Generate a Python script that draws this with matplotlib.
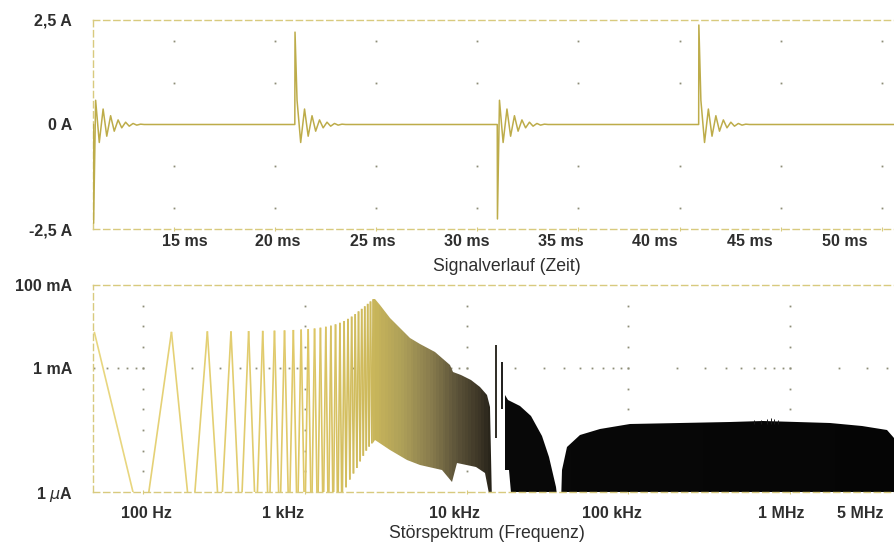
import numpy as np
import matplotlib
matplotlib.use('Agg')
import matplotlib.pyplot as plt
from matplotlib.collections import LineCollection
from matplotlib.colors import LinearSegmentedColormap, Normalize
from matplotlib.patches import PathPatch
from matplotlib.path import Path

plt.rcParams['font.family'] = ['Liberation Sans', 'DejaVu Sans']

# ---------------- data: time signal ----------------
pulse_t_ms = [11.05, 21.0, 31.0, 40.95]
pulse_peak_a = [-2.36, 2.21, -2.26, 2.38]
# ringing after every pulse: time after pulse (ms) and successive extremes (A)
ring_dt_ms = [0.10, 0.28, 0.47, 0.65, 0.84, 1.02, 1.21, 1.39, 1.58, 1.76, 1.95, 2.13, 2.32]
ring_a = [0.58, -0.43, 0.37, -0.28, 0.21, -0.16, 0.11, -0.08, 0.055, -0.04, 0.025, -0.015, 0.008]

time_ticks_ms = [15, 20, 25, 30, 35, 40, 45, 50]
time_tick_labels = ['15 ms', '20 ms', '25 ms', '30 ms', '35 ms', '40 ms', '45 ms', '50 ms']
amp_ticks_a = [-2.5, 0, 2.5]
amp_tick_labels = ['-2,5 A', '0 A', '2,5 A']

# ---------------- data: spectrum ----------------
# single harmonic lines (odd multiples of 50 Hz) at the low end
harm_hz = [50, 150, 250, 350, 450, 550, 650, 750, 850, 950, 1050, 1150, 1250, 1350,
           1450, 1550, 1650, 1750, 1850, 1950, 2050, 2150, 2250, 2350, 2450, 2550, 2650]
harm_peak_a = [7.4e-3, 7.4e-3, 7.6e-3, 7.6e-3, 7.7e-3, 7.8e-3, 7.9e-3, 8.0e-3, 8.2e-3,
               8.4e-3, 8.6e-3, 8.9e-3, 9.3e-3, 9.8e-3, 10.4e-3, 11.2e-3, 12.2e-3, 13.5e-3,
               15.2e-3, 17.2e-3, 19.8e-3, 23e-3, 26.5e-3, 30.5e-3, 35e-3, 40e-3, 45e-3]
valley_hz = [100, 200, 300, 400, 500, 600, 700, 800, 900, 1000, 1100, 1200, 1300, 1400,
             1500, 1600, 1700, 1800, 1900, 2000, 2100, 2200, 2300, 2400, 2500, 2600, 2700]
valley_a = [1e-7] * 17 + [1.3e-6, 2e-6, 2.8e-6, 3.8e-6, 5.5e-6, 7.5e-6, 10e-6, 12.5e-6,
                          15e-6, 18e-6]

# dense comb region: upper and lower envelope
dense_up_hz = [2650, 2700, 2900, 3350, 3860, 4450, 5130, 6370, 7870, 8200, 9300,
               10700, 12100, 13300, 14000, 14400]
dense_up_a = [45e-3, 46e-3, 33e-3, 16e-3, 9.2e-3, 5.3e-3, 3.8e-3, 2.4e-3, 1.18e-3,
              0.8e-3, 0.68e-3, 0.51e-3, 0.35e-3, 0.22e-3, 0.112e-3, 5e-7]
dense_lo_hz = [2650, 2700, 3350, 4270, 5130, 7100, 8100, 8700, 11500, 13100, 14200]
dense_lo_a = [15e-6, 18e-6, 10.3e-6, 5.9e-6, 4.6e-6, 3.4e-6, 1.74e-6, 5e-6, 4e-6,
              2.87e-6, 5e-7]

# first black lobe
lobe1_up_hz = [17200, 18100, 21300, 25200, 29100, 32300, 35700, 37000]
lobe1_up_a = [0.223e-3, 0.17e-3, 0.117e-3, 0.067e-3, 0.022e-3, 7.1e-6, 1.34e-6, 5e-7]
lobe1_lo_hz = [17200, 18300, 19000, 37000]
lobe1_lo_a = [3.4e-6, 3.4e-6, 5e-7, 5e-7]

# second black lobe (broadband part)
lobe2_up_hz = [38600, 39000, 41900, 50600, 67200, 103e3, 209e3, 425e3, 681e3, 1.1e6,
               1.76e6, 2.8e6, 3.97e6, 4.39e6]
lobe2_up_a = [5e-7, 3.4e-6, 12.3e-6, 24e-6, 33e-6, 43.5e-6, 46e-6, 49e-6, 52e-6, 49e-6,
              46e-6, 40e-6, 31e-6, 20e-6]

# isolated spectral lines
spike_hz = [15200, 16600, 600e3, 660e3, 720e3, 760e3, 790e3, 840e3]
spike_top_a = [3.6e-3, 1.4e-3, 55e-6, 56e-6, 58e-6, 62e-6, 57e-6, 54e-6]
spike_bot_a = [2e-5, 1e-4, 45e-6, 45e-6, 45e-6, 45e-6, 45e-6, 45e-6]

freq_ticks_hz = [100, 1e3, 1e4, 1e5, 1e6, 5e6]
freq_tick_labels = ['100 Hz', '1 kHz', '10 kHz', '100 kHz', '1 MHz', '5 MHz']
lev_ticks_a = [1e-6, 1e-3, 1e-1]
lev_tick_labels = [r'1 $\mu$A', '1 mA', '100 mA']

# ---------------- styles / layout ----------------
W, H = 894, 544
frame_col = '#d8ca7e'
dot_col = '#8d8d78'
text_col = '#2e2e2e'
trace_col = '#bdac4a'
time_lbl_dx = [11.5, 3.3, -2.9, -10.1, -17.3, -24.5, -30.7, -36.9]   # px
freq_lbl_dx = [3, -22, -12, -16, -9, -43]                              # px

fig = plt.figure(figsize=(W / 100, H / 100), dpi=100)
ax1 = fig.add_axes([93 / W, 1 - 229 / H, 801 / W, 209 / H])
ax2 = fig.add_axes([93 / W, 1 - 492 / H, 801 / W, 207 / H])


def style_frame(ax):
    for s in ['top', 'bottom', 'left']:
        ax.spines[s].set_linestyle((0, (4.5, 2.8)))
        ax.spines[s].set_color(frame_col)
        ax.spines[s].set_linewidth(1.0)
    ax.spines['right'].set_visible(False)
    ax.tick_params(axis='x', length=3, width=0.8, color=frame_col, direction='inout',
                   labelbottom=False)
    ax.tick_params(axis='y', length=0, pad=15, labelsize=11.5, labelcolor=text_col)
    for t in ax.get_yticklabels():
        t.set_fontweight('bold')


# ---------------- top: time signal ----------------
tt = [10.9]
yy = [0.0]
for t0, pk in zip(pulse_t_ms, pulse_peak_a):
    tt += [t0 - 0.01, t0]
    yy += [0.0, pk]
    for dt, a in zip(ring_dt_ms, ring_a):
        tt.append(t0 + dt)
        yy.append(a)
    tt.append(t0 + 2.5)
    yy.append(0.0)
tt.append(51.0)
yy.append(0.0)

gx, gy = np.meshgrid(time_ticks_ms, [-2, -1, 1, 2])
ax1.plot(gx.ravel(), gy.ravel(), ls='none', marker='s', ms=1.3, mec='none', mfc=dot_col, zorder=1)
ax1.plot(tt, yy, color=trace_col, lw=1.1, zorder=3)
ax1.set_xlim(11.02, 50.59)
ax1.set_ylim(-2.5, 2.5)
ax1.set_xticks(time_ticks_ms)
ax1.set_yticks(amp_ticks_a, amp_tick_labels)
style_frame(ax1)
for v, lab, dx in zip(time_ticks_ms, time_tick_labels, time_lbl_dx):
    ax1.annotate(lab, xy=(v, 0), xycoords=('data', 'axes fraction'),
                 xytext=(dx * 0.72, -13 * 0.72), textcoords='offset points',
                 ha='center', va='center', fontsize=11.5, fontweight='bold', color=text_col)

# ---------------- bottom: spectrum ----------------
ax2.set_xscale('log')
ax2.set_yscale('log')
x_lo, x_hi = 49.1, 4.39e6
ax2.set_xlim(x_lo, x_hi)
ax2.set_ylim(1e-6, 1e-1)

# dotted grid
minor_f = [m * 10.0 ** e for e in range(1, 7) for m in range(1, 10)]
minor_f = [f for f in minor_f if x_lo <= f <= x_hi]
ax2.plot(minor_f, [1e-3] * len(minor_f), ls='none', marker='s', ms=1.3, mec='none',
         mfc=dot_col, zorder=1)
vy = [10 ** (k / 2) for k in range(-11, -2)]
vx, vyy = np.meshgrid([100, 1e3, 1e4, 1e5, 1e6], vy)
ax2.plot(vx.ravel(), vyy.ravel(), ls='none', marker='s', ms=1.3, mec='none', mfc=dot_col, zorder=1)

# colour along frequency
lo, hi = np.log10(40), np.log10(5e6)
stops = [(50, '#e8d67f'), (1000, '#dfc867'), (2500, '#cdb95b'), (4000, '#ad9f58'),
         (6000, '#887c4d'), (8500, '#5e553a'), (12000, '#3c3526'), (15500, '#1c1912'),
         (17000, '#080808'), (5e6, '#050505')]
spec_cmap = LinearSegmentedColormap.from_list(
    'spec', [(0.0, stops[0][1])] + [((np.log10(f) - lo) / (hi - lo), c) for f, c in stops])
norm = Normalize(lo, hi)

# individual harmonic lines
segs, segc = [], []
for i in range(len(harm_hz)):
    segs.append([(harm_hz[i], harm_peak_a[i]), (valley_hz[i], valley_a[i])])
    segc.append(np.log10(harm_hz[i]))
    if i + 1 < len(harm_hz):
        segs.append([(valley_hz[i], valley_a[i]), (harm_hz[i + 1], harm_peak_a[i + 1])])
        segc.append(np.log10(harm_hz[i + 1]))
lc = LineCollection(segs, colors=spec_cmap(norm(np.array(segc))), linewidths=1.2, zorder=2)
ax2.add_collection(lc)


def poly(up_x, up_y, lo_x, lo_y):
    v = list(zip(up_x, up_y)) + list(zip(lo_x, lo_y))[::-1]
    v.append(v[0])
    return Path(v, [Path.MOVETO] + [Path.LINETO] * (len(v) - 2) + [Path.CLOSEPOLY])


p_dense = poly(dense_up_hz, dense_up_a, dense_lo_hz, dense_lo_a)
p_l1 = poly(lobe1_up_hz, lobe1_up_a, lobe1_lo_hz, lobe1_lo_a)
p_l2 = poly(lobe2_up_hz, lobe2_up_a, [lobe2_up_hz[0], lobe2_up_hz[-1]], [5e-7, 5e-7])
clip = PathPatch(Path.make_compound_path(p_dense, p_l1, p_l2), facecolor='none',
                 edgecolor='none', transform=ax2.transData)
ax2.add_patch(clip)
xe = np.logspace(lo, hi, 900)
xc = np.sqrt(xe[:-1] * xe[1:])
mesh = ax2.pcolormesh(xe, [1e-8, 1.0], np.log10(xc)[None, :], cmap=spec_cmap, norm=norm,
                      shading='flat', zorder=2)
mesh.set_clip_path(clip)

ax2.vlines(spike_hz[:2], spike_bot_a[:2], spike_top_a[:2],
           colors=spec_cmap(norm(np.log10(spike_hz[:2]))), linewidth=1.3, zorder=2)
ax2.vlines(spike_hz[2:], spike_bot_a[2:], spike_top_a[2:], colors='#1a1a1a',
           linewidth=0.7, zorder=2)

ax2.xaxis.set_minor_locator(matplotlib.ticker.NullLocator())
ax2.yaxis.set_minor_locator(matplotlib.ticker.NullLocator())
ax2.set_xticks(freq_ticks_hz[:-1])
ax2.set_xlim(x_lo, x_hi)
ax2.set_yticks(lev_ticks_a, lev_tick_labels)
style_frame(ax2)
for v, lab, dx in zip(freq_ticks_hz, freq_tick_labels, freq_lbl_dx):
    ax2.annotate(lab, xy=(v, 0), xycoords=('data', 'axes fraction'),
                 xytext=(dx * 0.72, -21 * 0.72), textcoords='offset points',
                 ha='center', va='center', fontsize=11.5, fontweight='bold', color=text_col,
                 annotation_clip=False)

fig.text(507 / W, 1 - 267 / H, 'Signalverlauf (Zeit)', ha='center', va='center',
         fontsize=12.7, color=text_col)
fig.text(487 / W, 1 - 533 / H, 'Störspektrum (Frequenz)', ha='center', va='center',
         fontsize=12.7, color=text_col)

fig.savefig('out.png', dpi=100, facecolor='white')
